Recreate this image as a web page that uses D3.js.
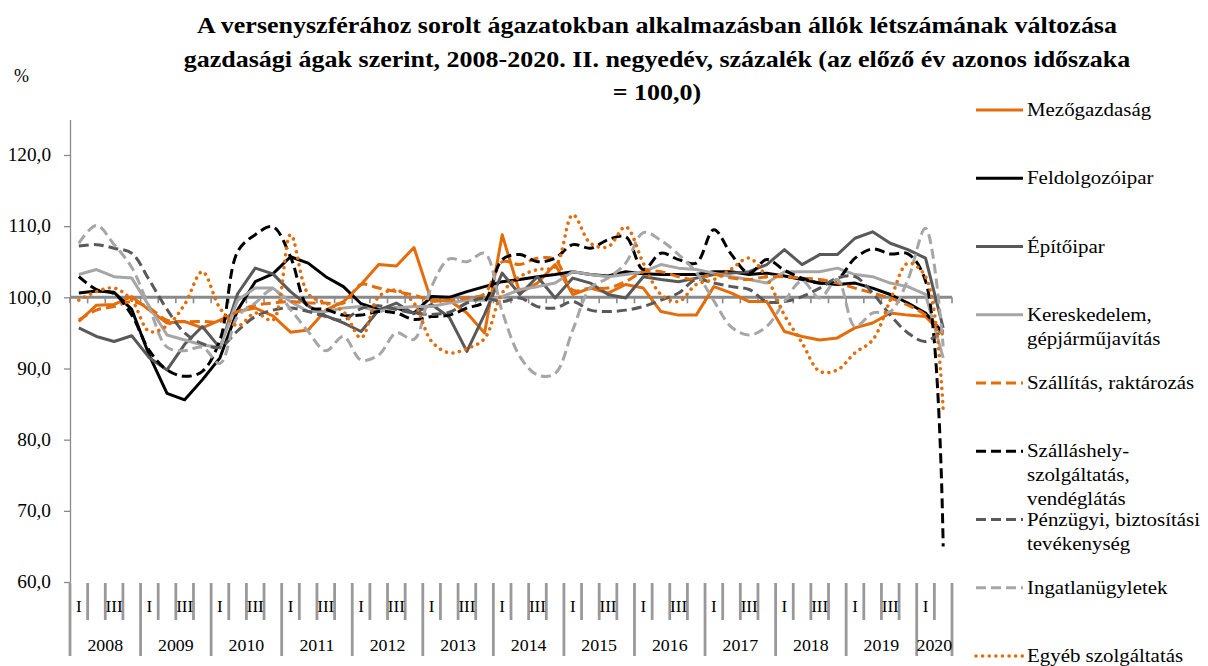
<!DOCTYPE html>
<html><head><meta charset="utf-8">
<script src="https://cdn.jsdelivr.net/npm/d3@7"></script>
<style>
body{margin:0;background:#fff}
svg{display:block}
text{font-family:"Liberation Serif","Times New Roman",serif;fill:#000}
</style>
</head><body>
<svg id="chart" width="1208" height="666"></svg>
<script>
const titleLines = [
  "A versenyszférához sorolt ágazatokban alkalmazásban állók létszámának változása",
  "gazdasági ágak szerint, 2008-2020. II. negyedév, százalék (az előző év azonos időszaka",
  "= 100,0)"
];
const years = ["2008","2009","2010","2011","2012","2013","2014","2015","2016","2017","2018","2019","2020"];
const quartersPerYear = [4,4,4,4,4,4,4,4,4,4,4,4,2];
const quarterLabels = ["I","","III",""];
const yTicks = [60,70,80,90,100,110,120];

const mezogazdasag = [96.6, 98.9, 99.0, 100.1, 98.2, 96.4, 96.6, 95.7, 96.8, 98.0,
 98.5, 97.4, 95.1, 95.4, 98.2, 99.4, 101.8, 104.6, 104.4, 107.0,
 99.4, 99.6, 97.8, 95.0, 108.8, 100.6, 102.0, 104.6, 100.4, 101.3,
 100.6, 101.8, 101.3, 98.0, 97.5, 97.5, 101.5, 100.6, 99.4, 99.4,
 95.2, 94.5, 94.0, 94.3, 95.7, 96.4, 97.8, 97.5, 97.3, 94.7];
const feldolgozoipar = [100.6, 100.9, 100.7, 98.3, 91.8, 86.5, 85.6, 88.4, 91.5, 98.2,
 102.2, 103.3, 105.7, 104.8, 102.9, 101.5, 99.1, 98.3, 98.5, 97.8,
 100.1, 100.0, 100.8, 101.5, 102.2, 102.5, 102.9, 103.2, 103.6, 103.2,
 103.0, 103.6, 103.3, 103.2, 103.2, 103.2, 103.6, 103.6, 103.2, 103.4,
 103.0, 102.5, 102.0, 101.8, 102.0, 101.3, 100.4, 99.2, 97.8, 95.0];
const epitoipar = [95.7, 94.5, 93.8, 94.6, 91.5, 89.8, 93.4, 95.9, 92.9, 100.5,
 104.1, 103.3, 100.8, 98.8, 97.4, 96.4, 95.2, 98.2, 99.2, 97.7,
 99.0, 97.2, 92.4, 97.6, 103.4, 100.4, 102.9, 99.9, 102.7, 102.0,
 100.4, 99.9, 102.9, 102.5, 102.2, 102.7, 103.2, 103.4, 103.6, 104.6,
 106.7, 104.6, 106.0, 106.0, 108.3, 109.2, 107.6, 106.7, 105.5, 95.7];
const kereskedelem = [103.2, 103.9, 102.9, 102.7, 98.7, 94.7, 94.0, 93.3, 93.0, 99.6,
 101.3, 101.3, 99.4, 98.0, 98.0, 98.5, 98.7, 98.0, 98.5, 98.7,
 98.7, 99.2, 99.6, 99.6, 100.1, 101.1, 101.5, 102.0, 103.6, 103.2,
 102.9, 103.2, 103.6, 104.6, 104.1, 103.9, 103.4, 102.9, 102.5, 102.0,
 103.6, 103.6, 103.6, 104.1, 103.2, 102.9, 102.0, 101.5, 100.4, 91.5];
const szallitas = [96.8, 98.2, 98.7, 99.4, 98.5, 96.8, 96.6, 96.6, 96.6, 98.0,
 98.9, 99.2, 99.4, 99.2, 99.2, 99.2, 101.8, 101.3, 100.8, 100.3,
 99.6, 99.6, 99.9, 100.5, 105.0, 104.6, 105.5, 105.3, 101.0, 101.3,
 101.3, 102.2, 103.6, 103.6, 102.9, 102.5, 103.2, 102.7, 102.5, 102.9,
 102.9, 102.7, 102.5, 102.0, 101.3, 100.6, 99.9, 98.9, 97.5, 95.0];
const szallashely = [102.9, 101.1, 100.5, 97.5, 92.5, 89.8, 88.9, 89.6, 94.0, 106.4,
 108.8, 109.9, 105.7, 98.7, 98.3, 97.5, 97.5, 98.0, 97.8, 96.9,
 97.3, 97.5, 98.5, 99.4, 105.3, 106.0, 105.0, 105.5, 107.4, 106.9,
 108.1, 108.5, 103.9, 106.2, 105.3, 104.8, 109.5, 106.0, 103.4, 105.3,
 103.8, 102.7, 102.0, 102.5, 105.5, 106.8, 106.1, 106.1, 102.3, 65.0];
const penzugyi = [107.2, 107.4, 106.9, 106.2, 102.4, 98.3, 95.0, 93.5, 93.0, 95.3,
 97.3, 98.2, 98.5, 98.0, 97.3, 96.8, 98.4, 98.8, 98.3, 97.8,
 97.6, 97.9, 99.2, 99.9, 99.4, 99.9, 98.7, 98.5, 99.4, 98.2,
 98.0, 98.2, 98.7, 99.6, 100.6, 102.5, 102.0, 101.5, 101.1, 99.4,
 99.4, 100.1, 101.3, 102.7, 102.9, 100.6, 97.5, 95.0, 93.8, 95.5];
const ingatlan = [107.6, 110.1, 107.4, 104.2, 98.5, 93.0, 92.5, 93.0, 90.7, 97.3,
 99.2, 101.1, 98.3, 95.2, 92.5, 94.5, 91.2, 91.9, 95.0, 94.1,
 101.5, 105.4, 105.0, 106.2, 98.0, 91.7, 89.1, 89.3, 95.4, 101.3,
 102.7, 104.8, 109.1, 108.0, 106.0, 103.5, 99.5, 95.8, 94.7, 95.9,
 99.4, 102.3, 99.9, 102.5, 95.9, 97.8, 98.0, 102.5, 109.7, 93.1];
const egyeb = [99.6, 100.8, 101.3, 99.6, 95.2, 96.0, 99.0, 103.6, 98.5, 96.0,
 97.8, 96.8, 108.8, 100.5, 99.2, 98.0, 94.3, 100.1, 101.0, 99.2,
 93.8, 92.2, 92.8, 94.2, 100.6, 102.9, 103.9, 104.3, 111.6, 107.6,
 107.1, 109.9, 104.8, 100.4, 99.4, 101.8, 102.5, 104.0, 105.5, 102.7,
 97.5, 93.6, 89.6, 89.8, 92.2, 94.0, 99.6, 104.8, 102.9, 84.2];

const seriesNames = [
  ["Mezőgazdaság"],
  ["Feldolgozóipar"],
  ["Építőipar"],
  ["Kereskedelem,","gépjárműjavítás"],
  ["Szállítás, raktározás"],
  ["Szálláshely-","szolgáltatás,","vendéglátás"],
  ["Pénzügyi, biztosítási","tevékenység"],
  ["Ingatlanügyletek"],
  ["Egyéb szolgáltatás"]
];
const seriesValues = [mezogazdasag, feldolgozoipar, epitoipar, kereskedelem, szallitas, szallashely, penzugyi, ingatlan, egyeb];

const ORANGE = "#E46C0A", BLACK = "#000000", DGRAY = "#595959", LGRAY = "#A6A6A6";
const seriesColors = [ORANGE, BLACK, DGRAY, LGRAY, ORANGE, BLACK, DGRAY, LGRAY, ORANGE];
const seriesKinds  = ["solid","solid","solid","solid","dash","dash","dash","dash","dot"];

const svg = d3.select("#chart");

function widen(sel, f) {
  sel.each(function() {
    const w = this.getComputedTextLength();
    if (w > 0) d3.select(this).attr("textLength", w * f).attr("lengthAdjust", "spacingAndGlyphs");
  });
}

const periods = [];
years.forEach((yr, yi) => { for (let q = 0; q < quartersPerYear[yi]; q++) periods.push({year: yr, q}); });

const left = 70, right = 952, bottom = 582;
const x = d3.scaleBand().domain(d3.range(periods.length)).range([left, right]).padding(0);
const y = d3.scaleLinear().domain([60, 125]).range([582, 119.4]);

// title
svg.append("g").selectAll("text").data(titleLines).join("text")
  .attr("x", 657).attr("y", (d, i) => 33 + i * 33.5)
  .attr("text-anchor", "middle")
  .style("font-size", "23px").style("font-weight", "bold")
  .text(d => d).call(widen, 1.13);

svg.append("text").attr("x", 14).attr("y", 82).style("font-size", "18px").text("%");

// y axis
const yAxis = d3.axisLeft(y).tickValues(yTicks)
  .tickFormat(d => d.toFixed(1).replace(".", ","))
  .tickSize(6).tickSizeOuter(0).tickPadding(13);
const ga = svg.append("g").attr("transform", `translate(${left},0)`).call(yAxis);
ga.select(".domain").attr("stroke", "#8a8a8a").attr("stroke-width", 1.3);
ga.selectAll(".tick line").attr("stroke", "#8a8a8a").attr("stroke-width", 1.3);
ga.selectAll(".tick text").style("font-size", "18px").style("font-family", '"Liberation Serif",serif').attr("fill", "#000").call(widen, 1.07);

// bottom category axis
const bounds = d3.range(periods.length + 1);
const bx = i => i < periods.length ? x(i) : right;
let startIdx = 0; const yearStarts = new Set();
quartersPerYear.forEach(n => { yearStarts.add(startIdx); startIdx += n; });
yearStarts.add(periods.length);
svg.append("g").selectAll("line").data(bounds).join("line")
  .attr("x1", bx).attr("x2", bx)
  .attr("y1", bottom + 1)
  .attr("y2", d => yearStarts.has(d) ? 656 : 620)
  .attr("stroke", "#999999").attr("stroke-width", 2.8);
svg.append("g").selectAll("text").data(periods).join("text")
  .attr("x", (d, i) => x(i) + x.bandwidth() / 2).attr("y", 612)
  .attr("text-anchor", "middle").style("font-size", "17px")
  .text(d => quarterLabels[d.q]);
let acc = 0;
const yearSpans = years.map((yr, yi) => { const s = acc; acc += quartersPerYear[yi]; return {yr, s, e: acc}; });
svg.append("g").selectAll("text").data(yearSpans).join("text")
  .attr("x", d => (bx(d.s) + bx(d.e)) / 2).attr("y", 651)
  .attr("text-anchor", "middle").style("font-size", "17px")
  .text(d => d.yr).call(widen, 1.05);

// 100 line with ticks
svg.append("line").attr("x1", left).attr("x2", right).attr("y1", y(100)).attr("y2", y(100))
  .attr("stroke", "#8a8a8a").attr("stroke-width", 3);
svg.append("g").selectAll("line").data(bounds).join("line")
  .attr("x1", bx).attr("x2", bx).attr("y1", y(100)).attr("y2", y(100) + 6)
  .attr("stroke", "#8a8a8a").attr("stroke-width", 1.6);

function applyStyle(sel, i) {
  sel.attr("stroke", seriesColors[i]).attr("fill", "none");
  if (seriesKinds[i] === "solid") sel.attr("stroke-width", 3).attr("stroke-linejoin", "round");
  else if (seriesKinds[i] === "dash") sel.attr("stroke-width", 3).attr("stroke-dasharray", "10,5");
  else sel.attr("stroke-width", 3.5).attr("stroke-dasharray", "0.1,6.5").attr("stroke-linecap", "round");
}

const cx = i => x(i) + x.bandwidth() / 2;
seriesValues.forEach((vals, si) => {
  const line = d3.line().x((d, i) => cx(i)).y(d => y(d))
    .curve(seriesKinds[si] === "solid" ? d3.curveLinear : d3.curveCatmullRom.alpha(0.5));
  svg.append("path").datum(vals).attr("d", line).call(applyStyle, si);
});

// legend
const lg = svg.append("g");
seriesNames.forEach((lines, i) => {
  const ly = 110 + i * 68.25;
  lg.append("line").attr("x1", 976).attr("x2", 1023).attr("y1", ly).attr("y2", ly).call(applyStyle, i);
  lines.forEach((t, k) => {
    lg.append("text").attr("x", 1027).attr("y", ly + 6 + k * 24).style("font-size", "19px").text(t).call(widen, 1.1);
  });
});
</script>
</body></html>
